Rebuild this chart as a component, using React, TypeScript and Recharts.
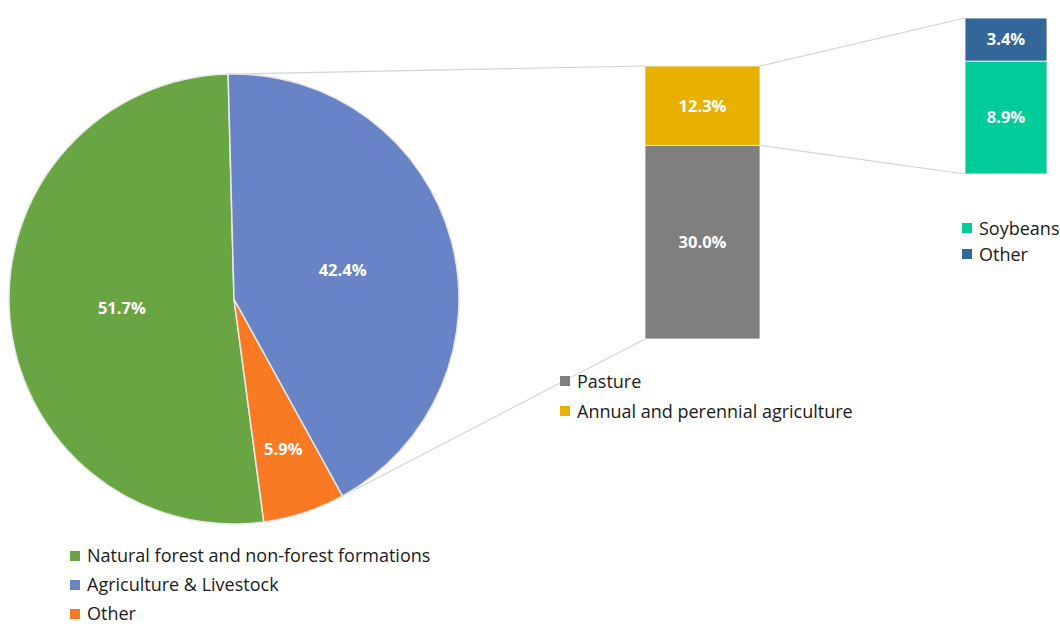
import { PieChart, Pie, Cell, BarChart, Bar, XAxis, YAxis, LabelList } from "recharts";

// pie: land use shares
const pieNames = ["Natural forest and non-forest formations", "Agriculture & Livestock", "Other"];
const pieValues = [51.7, 42.4, 5.9];
const pieColors = ["#6aa544", "#6883c6", "#fa7a24"];

// first bar: breakdown of agriculture & livestock
const barNames = ["Pasture", "Annual and perennial agriculture"];
const barValues = [30.0, 12.3];
const barColors = ["#7f7f7f", "#e8b100"];

// second bar: breakdown of annual and perennial agriculture
const bar2Names = ["Soybeans", "Other"];
const bar2Values = [8.9, 3.4];
const bar2Colors = ["#00cc99", "#336699"];

const FONT = "'Open Sans', 'Liberation Sans', Arial, sans-serif";
const W = 1060;
const H = 624;

// pie geometry
const CX = 234;
const CY = 299;
const R = 225;
const START = 91.5;

// bar boxes
const B1 = { left: 645, top: 66, width: 115, height: 273 };
const B2 = { left: 965, top: 18, width: 82, height: 156 };

const sum = (a: number[]) => a.reduce((s, v) => s + v, 0);
const rad = (deg: number) => (deg * Math.PI) / 180;
const polar = (deg: number) => ({ x: CX + R * Math.cos(rad(deg)), y: CY - R * Math.sin(rad(deg)) });

// draw counter-clockwise from top: forest, other, agriculture
const pieOrder = [0, 2, 1];
const pieData = pieOrder.map((i) => ({ name: pieNames[i], value: pieValues[i], color: pieColors[i] }));

const bar1Row = [{ name: "a", ...Object.fromEntries(barNames.map((n, i) => [`s${i}`, barValues[i]])) }];
const bar2Row = [{ name: "b", ...Object.fromEntries(bar2Names.map((n, i) => [`s${i}`, bar2Values[i]])) }];

const pct = (v: number) => `${v.toFixed(1)}%`;

function PieLabel(props: any) {
  const { cx, cy, midAngle, outerRadius, percent, value } = props;
  const f = percent > 0.2 ? 0.5 : 0.7;
  const x = cx + outerRadius * f * Math.cos(rad(midAngle));
  const y = cy - outerRadius * f * Math.sin(rad(midAngle));
  return (
    <text x={x} y={y} fill="#fff" fontSize={16.5} fontWeight={700} fontFamily={FONT} textAnchor="middle" dominantBaseline="central">
      {pct(value)}
    </text>
  );
}

function StackBar({ box, row, names, values, colors }: { box: typeof B1; row: any[]; names: string[]; values: number[]; colors: string[] }) {
  return (
    <div style={{ position: "absolute", left: box.left, top: box.top }}>
      <BarChart width={box.width} height={box.height} data={row} margin={{ top: 0, right: 0, bottom: 0, left: 0 }} barCategoryGap={0}>
        <XAxis dataKey="name" type="category" hide />
        <YAxis type="number" hide domain={[0, sum(values)]} />
        {names.map((n, i) => (
          <Bar key={n} name={n} dataKey={`s${i}`} stackId="s" fill={colors[i]} stroke="#e4e4e4" strokeWidth={1} isAnimationActive={false}>
            <LabelList dataKey={`s${i}`} position="center" fill="#fff" fontSize={16.5} fontWeight={700} fontFamily={FONT} formatter={(v: any) => pct(Number(v))} />
          </Bar>
        ))}
      </BarChart>
    </div>
  );
}

function LegendBox({ left, top, gap, names, colors }: { left: number; top: number; gap: number; names: string[]; colors: string[] }) {
  return (
    <div style={{ position: "absolute", left, top, fontFamily: FONT, fontSize: 18, lineHeight: `${gap}px`, color: "#1a1a1a" }}>
      {names.map((n, i) => (
        <div key={n} style={{ display: "flex", alignItems: "center", height: gap, whiteSpace: "nowrap" }}>
          <span style={{ width: 10, height: 10, background: colors[i], marginRight: 7, display: "inline-block" }} />
          {n}
        </div>
      ))}
    </div>
  );
}

export default function App() {
  const pTop = polar(START);
  const pBottom = polar(START + (360 * (pieValues[0] + pieValues[2])) / sum(pieValues));
  const b1Split = B1.top + (B1.height * barValues[1]) / sum(barValues);
  const lines = [
    [pTop.x, pTop.y, B1.left, B1.top],
    [pBottom.x, pBottom.y, B1.left, B1.top + B1.height],
    [B1.left + B1.width, B1.top, B2.left, B2.top],
    [B1.left + B1.width, b1Split, B2.left, B2.top + B2.height],
  ];

  return (
    <div style={{ position: "absolute", left: 0, top: 0, width: W, height: H, background: "#fff", overflow: "hidden" }}>
      <svg width={W} height={H} style={{ position: "absolute", left: 0, top: 0 }}>
        {lines.map((l, i) => (
          <line key={i} x1={l[0]} y1={l[1]} x2={l[2]} y2={l[3]} stroke="#d4d4d4" strokeWidth={1.2} />
        ))}
      </svg>
      <div style={{ position: "absolute", left: 0, top: 0 }}>
        <PieChart width={480} height={540} margin={{ top: 0, right: 0, bottom: 0, left: 0 }}>
          <Pie
            data={pieData}
            dataKey="value"
            nameKey="name"
            cx={CX}
            cy={CY}
            outerRadius={R}
            startAngle={START}
            endAngle={START + 360}
            stroke="#e8e8e8"
            strokeWidth={1.5}
            label={PieLabel}
            labelLine={false}
            isAnimationActive={false}
          >
            {pieData.map((d) => (
              <Cell key={d.name} fill={d.color} />
            ))}
          </Pie>
        </PieChart>
      </div>
      <StackBar box={B1} row={bar1Row} names={barNames} values={barValues} colors={barColors} />
      <StackBar box={B2} row={bar2Row} names={bar2Names} values={bar2Values} colors={bar2Colors} />
      <LegendBox left={70} top={541} gap={29} names={pieNames} colors={pieColors} />
      <LegendBox left={560} top={366} gap={30} names={barNames} colors={barColors} />
      <LegendBox left={962} top={215} gap={26} names={bar2Names} colors={bar2Colors} />
    </div>
  );
}
